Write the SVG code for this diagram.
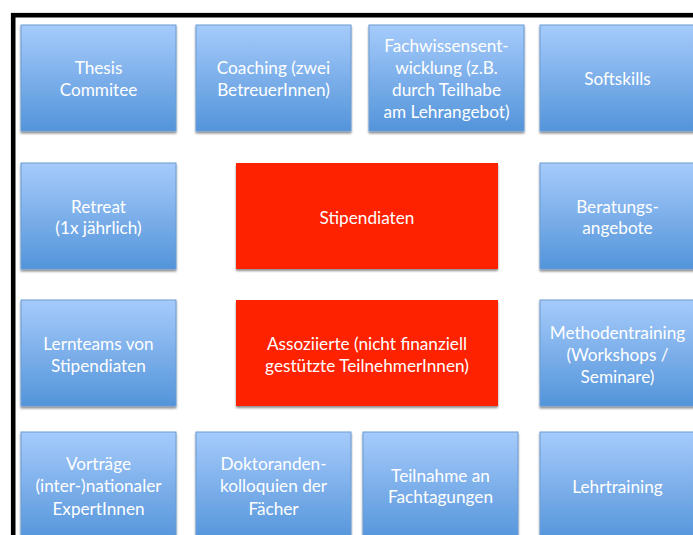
<svg xmlns="http://www.w3.org/2000/svg" width="693" height="535" viewBox="0 0 693 535">
<defs>
<linearGradient id="blue" x1="0" y1="0" x2="0" y2="1">
<stop offset="0" stop-color="#a6cbfb"/>
<stop offset="1" stop-color="#5394da"/>
</linearGradient>
<filter id="sh" x="-10%" y="-10%" width="120%" height="130%">
<feGaussianBlur in="SourceAlpha" stdDeviation="1.2"/>
<feOffset dx="0" dy="2" result="b"/>
<feComponentTransfer><feFuncA type="linear" slope="0.45"/></feComponentTransfer>
<feMerge><feMergeNode/><feMergeNode in="SourceGraphic"/></feMerge>
</filter>
<style>
.b{fill:url(#blue);stroke:#6b9bd3;stroke-width:1;filter:url(#sh)}
.r{fill:#ff2200;filter:url(#sh)}
text{font-family:Lato,"Open Sans","Liberation Sans",sans-serif;font-size:17.2px;fill:#ffffff;text-anchor:middle}
</style>
</defs>
<rect width="693" height="535" fill="#ffffff"/>
<rect x="13.2" y="15.2" width="700" height="540" fill="none" stroke="#000" stroke-width="4.6"/>
<g id="thesis"><rect class="b" x="21" y="25" width="155" height="106"/><text x="98.5" y="74">Thesis</text><text x="98.5" y="96">Commitee</text></g>
<g id="coaching"><rect class="b" x="196" y="25" width="155" height="106"/><text x="273.5" y="74">Coaching (zwei</text><text x="273.5" y="96">BetreuerInnen)</text></g>
<g id="fachwissen"><rect class="b" x="369" y="25" width="155" height="106"/><text x="446.5" y="52">Fachwissensent-</text><text x="446.5" y="74">wicklung (z.B.</text><text x="446.5" y="96">durch Teilhabe</text><text x="446.5" y="118">am Lehrangebot)</text></g>
<g id="softskills"><rect class="b" x="540" y="25" width="155" height="106"/><text x="617.5" y="85">Softskills</text></g>
<g id="retreat"><rect class="b" x="21" y="163" width="155" height="106"/><text x="98.5" y="213">Retreat</text><text x="98.5" y="234">(1x jährlich)</text></g>
<g id="stipendiaten"><rect class="r" x="236" y="163" width="262" height="106"/><text x="367" y="224">Stipendiaten</text></g>
<g id="beratung"><rect class="b" x="540" y="163" width="155" height="106"/><text x="617.5" y="213">Beratungs-</text><text x="617.5" y="234">angebote</text></g>
<g id="lernteams"><rect class="b" x="21" y="300" width="155" height="106"/><text x="98.5" y="350">Lernteams von</text><text x="98.5" y="372">Stipendiaten</text></g>
<g id="assoziierte"><rect class="r" x="236" y="300" width="262" height="106"/><text x="367" y="350">Assoziierte (nicht finanziell</text><text x="367" y="372">gestützte TeilnehmerInnen)</text></g>
<g id="methoden"><rect class="b" x="540" y="300" width="155" height="106"/><text x="617.5" y="339">Methodentraining</text><text x="617.5" y="361">(Workshops /</text><text x="617.5" y="383">Seminare)</text></g>
<g id="vortraege"><rect class="b" x="21" y="432" width="155" height="110"/><text x="98.5" y="470">Vorträge</text><text x="98.5" y="492">(inter-)nationaler</text><text x="98.5" y="515">ExpertInnen</text></g>
<g id="doktoranden"><rect class="b" x="196" y="432" width="155" height="110"/><text x="273.5" y="470">Doktoranden-</text><text x="273.5" y="492">kolloquien der</text><text x="273.5" y="515">Fächer</text></g>
<g id="teilnahme"><rect class="b" x="363" y="432" width="155" height="110"/><text x="440.5" y="482">Teilnahme an</text><text x="440.5" y="503">Fachtagungen</text></g>
<g id="lehrtraining"><rect class="b" x="540" y="432" width="155" height="110"/><text x="617.5" y="493">Lehrtraining</text></g>
<g id="connectors"></g>
</svg>
